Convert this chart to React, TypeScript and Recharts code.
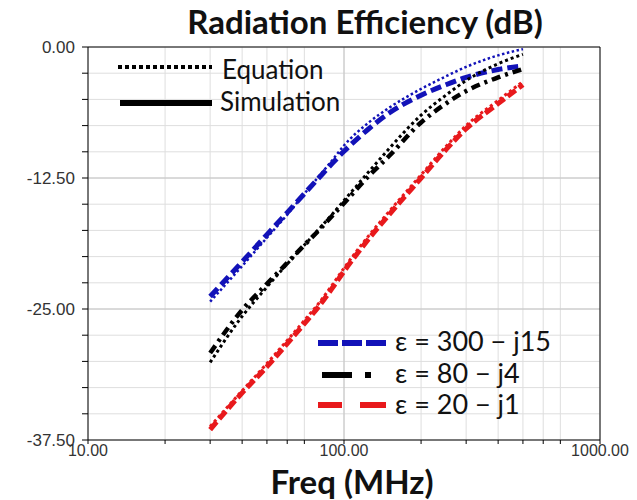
import { CartesianGrid, Line, LineChart, ReferenceLine, XAxis, YAxis } from 'recharts';

const freq = [30, 40, 50, 60, 70, 80, 90, 100, 125, 150, 200, 250, 300, 400, 500];

const eq300 = [-24.3, -20.9, -18.2, -16.0, -14.0, -12.3, -10.8, -9.4, -7.2, -5.8, -4.0, -2.8, -1.9, -0.8, -0.2];
const sim300 = [-23.8, -20.5, -17.9, -15.8, -14.0, -12.45, -11.1, -9.95, -7.8, -6.3, -4.6, -3.6, -2.9, -2.15, -1.8];
const eq80 = [-30.1, -25.7, -22.9, -20.7, -18.9, -17.35, -15.95, -14.65, -11.9, -9.7, -6.5, -4.6, -3.2, -1.6, -0.7];
const sim80 = [-29.2, -25.1, -22.6, -20.6, -18.9, -17.45, -16.1, -14.9, -12.3, -10.4, -7.2, -5.4, -4.2, -2.9, -2.1];
const eq20 = [-36.2, -32.8, -30.2, -28.0, -26.1, -24.4, -22.7, -21.1, -18.0, -15.7, -12.2, -9.5, -7.5, -5.1, -3.3];
const sim20 = [-36.5, -33.0, -30.5, -28.3, -26.4, -24.7, -23.0, -21.4, -18.3, -16.0, -12.5, -9.8, -7.8, -5.4, -3.6];

const xTicks = [10, 20, 30, 40, 50, 60, 70, 80, 90, 100, 200, 300, 400, 500, 600, 700, 800, 900, 1000];
const xLabels = [10, 100, 1000];
const yTicks = [0, -2.5, -5, -7.5, -10, -12.5, -15, -17.5, -20, -22.5, -25, -27.5, -30, -32.5, -35, -37.5];
const yLabels = [0, -12.5, -25, -37.5];

const data = freq.map((f, i) => ({
  f,
  eq300: eq300[i],
  sim300: sim300[i],
  eq80: eq80[i],
  sim80: sim80[i],
  eq20: eq20[i],
  sim20: sim20[i],
}));

const BLUE = '#1212b8';
const RED = '#e8191c';
const calibri = 'Lato, "Open Sans", sans-serif';

export default function App() {
  return (
    <div style={{ position: 'absolute', left: 0, top: 0, width: 637, height: 500, background: '#fff' }}>
      <LineChart width={637} height={500} data={data} margin={{ top: 47, right: 37, bottom: 30, left: 0 }}>
        <CartesianGrid stroke="#dedede" />
        <ReferenceLine x={100} stroke="#c4c4c4" />
        <ReferenceLine y={-12.5} stroke="#c4c4c4" />
        <ReferenceLine y={-25} stroke="#c4c4c4" />
        <ReferenceLine y={0} stroke="#000" />
        <ReferenceLine x={1000} stroke="#000" />
        <XAxis
          dataKey="f"
          type="number"
          scale="log"
          domain={[10, 1000]}
          ticks={xTicks}
          allowDataOverflow
          height={30}
          stroke="#000"
          tickSize={4}
          tick={{ fontSize: 16, fill: '#333', fontFamily: '"Liberation Sans", Arial', dy: -1 }}
          tickFormatter={(v) => (xLabels.includes(v) ? v.toFixed(2) : '')}
        />
        <YAxis
          type="number"
          domain={[-37.5, 0]}
          ticks={yTicks}
          width={88}
          stroke="#000"
          tickSize={6}
          tick={{ fontSize: 17, fill: '#333', fontFamily: '"Liberation Sans", Arial', dx: -5 }}
          tickFormatter={(v) => (yLabels.includes(v) ? v.toFixed(2) : '')}
        />
        <Line dataKey="eq300" stroke={BLUE} strokeWidth={2.5} strokeDasharray="2.5 2.5" dot={false} type="monotone" isAnimationActive={false} />
        <Line dataKey="sim300" stroke={BLUE} strokeWidth={5} strokeDasharray="11 5" dot={false} type="monotone" isAnimationActive={false} />
        <Line dataKey="eq80" stroke="#000" strokeWidth={3} strokeDasharray="3 3" dot={false} type="monotone" isAnimationActive={false} />
        <Line dataKey="sim80" stroke="#000" strokeWidth={4.5} strokeDasharray="9 5 3 5" dot={false} type="monotone" isAnimationActive={false} />
        <Line dataKey="eq20" stroke={RED} strokeWidth={3} strokeDasharray="3 3" dot={false} type="monotone" isAnimationActive={false} />
        <Line dataKey="sim20" stroke={RED} strokeWidth={5} strokeDasharray="10 4" dot={false} type="monotone" isAnimationActive={false} />
      </LineChart>

      <svg width={637} height={500} style={{ position: 'absolute', left: 0, top: 0, pointerEvents: 'none' }}>
        <defs>
          <filter id="sh" x="-20%" y="-100%" width="140%" height="400%">
            <feGaussianBlur stdDeviation="2" />
          </filter>
        </defs>
        <text x={365} y={34} textAnchor="middle" fontFamily={calibri} fontWeight={700} fontSize={33} fill="#111">Radiation Efficiency (dB)</text>
        <text x={352} y={494} textAnchor="middle" fontFamily={calibri} fontWeight={700} fontSize={33} fill="#111">Freq (MHz)</text>

        <line x1={118} y1={67} x2={212} y2={67} stroke="#000" strokeWidth={4} strokeDasharray="4 3" />
        <line x1={122} y1={106} x2={214} y2={106} stroke="#888" strokeWidth={6} filter="url(#sh)" />
        <line x1={120} y1={103} x2={212} y2={103} stroke="#000" strokeWidth={6} />
        <text x={222} y={79} fontFamily={calibri} fontSize={26} fill="#111">Equation</text>
        <text x={220} y={111} fontFamily={calibri} fontSize={26} fill="#111">Simulation</text>

        <line x1={318} y1={343} x2={386} y2={343} stroke={BLUE} strokeWidth={6} strokeDasharray="20 4" />
        <line x1={322} y1={375} x2={352} y2={375} stroke="#000" strokeWidth={6} />
        <line x1={365} y1={375} x2={371} y2={375} stroke="#000" strokeWidth={6} />
        <line x1={318} y1={405} x2={342} y2={405} stroke={RED} strokeWidth={6} />
        <line x1={360} y1={405} x2={386} y2={405} stroke={RED} strokeWidth={6} />
        <text x={395} y={351} fontFamily={calibri} fontSize={27} fill="#111">ε = 300 − j15</text>
        <text x={395} y={383} fontFamily={calibri} fontSize={27} fill="#111">ε = 80 − j4</text>
        <text x={395} y={414} fontFamily={calibri} fontSize={27} fill="#111">ε = 20 − j1</text>
      </svg>
    </div>
  );
}
